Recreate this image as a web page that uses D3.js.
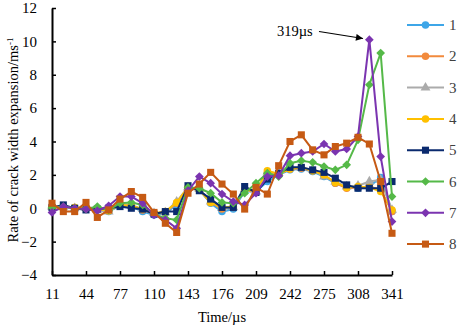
<!DOCTYPE html>
<html>
<head>
<meta charset="utf-8">
<script src="https://cdn.jsdelivr.net/npm/d3@7"></script>
<style>
  body { margin: 0; background: #fff; }
  text { font-family: "Liberation Serif", "Times New Roman", serif; }
</style>
</head>
<body>
<div id="chart"></div>
<script>
// time axis categories (µs)
var times = [11, 22, 33, 44, 55, 66, 77, 88, 99, 110, 121, 132, 143, 154, 165, 176,
  187, 198, 209, 220, 231, 242, 253, 264, 275, 286, 297, 308, 319, 330, 341]
var xTicks = [11, 44, 77, 110, 143, 176, 209, 242, 275, 308, 341]
var yTicks = [-4, -2, 0, 2, 4, 6, 8, 10, 12]

var names = ["1", "2", "3", "4", "5", "6", "7", "8"]

var s1 = [0, 0.1, 0, 0, -0.1, -0.2, 0.15, 0.1, -0.2, -0.4, -0.3, 0.2, 1.2, 1.1, 0.3, -0.2,
  -0.05, 1.0, 1.0, 1.6, 2.0, 2.3, 2.35, 2.2, 1.9, 1.5, 1.3, 1.2, 1.3, 1.85, -0.2]
var s2 = [0.05, 0, 0.05, -0.05, -0.05, -0.15, 0.2, 0.15, -0.1, -0.35, -0.25, 0.3, 1.2, 1.1, 0.35, -0.05,
  0.05, 1.1, 0.95, 2.1, 2.05, 2.35, 2.4, 2.25, 2.0, 1.5, 1.2, 1.25, 1.3, 1.1, -0.2]
var s3 = [0.1, 0.05, 0, 0.05, -0.1, -0.2, 0.25, 0.2, -0.05, -0.3, -0.25, 0.4, 1.25, 1.15, 0.4, 0,
  0.05, 1.15, 1.0, 2.15, 2.1, 2.4, 2.4, 2.3, 1.9, 1.6, 1.3, 1.35, 1.6, 1.7, -0.1]
var s4 = [0.05, 0.1, 0.05, 0, -0.05, -0.15, 0.2, 0.15, -0.05, -0.3, -0.2, 0.35, 1.25, 1.1, 0.35, 0.05,
  0.1, 1.1, 1.05, 2.25, 2.05, 2.35, 2.45, 2.25, 2.0, 1.55, 1.25, 1.3, 1.25, 1.0, -0.1]
var s5 = [0.05, 0.2, 0, -0.1, -0.05, 0, 0.1, 0, -0.05, -0.35, -0.2, -0.2, 1.35, 1.05, 0.55, 0.05,
  0.05, 1.3, 0.95, 1.75, 2.1, 2.45, 2.45, 2.3, 2.15, 1.8, 1.4, 1.2, 1.2, 1.2, 1.6]
var s6 = [0.05, 0.1, 0, -0.05, 0.1, -0.1, 0.3, 0.35, 0.2, -0.35, -0.6, -0.7, 1.25, 1.2, 0.9, 0.35,
  0.3, 0.9, 1.5, 2.1, 1.9, 2.7, 2.85, 2.75, 2.5, 2.3, 2.6, 4.1, 7.4, 9.3, 0.7]
var s7 = [-0.25, 0.1, 0, -0.05, -0.15, 0.15, 0.7, 0.7, 0.3, -0.4, -0.7, -1.2, 1.05, 1.9, 1.5, 0.85,
  0.4, 0.2, 0.9, 1.9, 1.95, 3.15, 3.3, 3.4, 3.85, 3.4, 3.55, 4.3, 10.1, 3.1, -0.8]
var s8 = [0.3, -0.2, -0.2, 0.35, -0.55, -0.1, 0.55, 1.0, 0.65, -0.25, -0.9, -1.45, 0.9, 1.45, 2.15, 1.45,
  0.85, -0.05, 1.25, 0.85, 2.55, 4.0, 4.4, 3.5, 3.2, 3.7, 3.9, 4.25, 3.85, 1.6, -1.5]

var seriesValues = [s1, s2, s3, s4, s5, s6, s7, s8]
var colors = ["#3ea6e8", "#f28a3c", "#ababab", "#ffc000", "#0a2a6e", "#55b948", "#7b34b0", "#c65a14"]
var shapes = ["circle", "circle", "triangle", "circle", "square", "diamond", "diamond", "square"]

var width = 457, height = 328

var svg = d3.select("#chart")
  .append("svg")
  .attr("width", width)
  .attr("height", height)

var x = d3.scalePoint()
  .domain(times)
  .range([52, 392])

var y = d3.scaleLinear()
  .domain([-4, 12])
  .range([275, 8])

// axes (ticks point inward like the original)
var xAxis = svg.append("g")
  .attr("transform", "translate(0," + y(-4) + ")")
  .call(d3.axisBottom(x).tickValues(xTicks).tickSizeInner(-4).tickSizeOuter(0).tickPadding(13))
xAxis.select(".domain").attr("stroke", "#000").attr("stroke-width", 2)
xAxis.selectAll(".tick line").attr("stroke", "#000").attr("stroke-width", 1.5)
xAxis.selectAll("text").attr("font-size", 15).attr("fill", "#000")
  .attr("font-family", "Liberation Serif")

var yAxis = svg.append("g")
  .attr("transform", "translate(" + x(11) + ",0)")
  .call(d3.axisLeft(y).tickValues(yTicks).tickSizeInner(-4).tickSizeOuter(0).tickPadding(15))
yAxis.select(".domain").attr("stroke", "#000").attr("stroke-width", 2)
yAxis.selectAll(".tick line").attr("stroke", "#000").attr("stroke-width", 1.5)
yAxis.selectAll("text").attr("font-size", 15).attr("fill", "#000")
  .attr("font-family", "Liberation Serif")

// axis titles
svg.append("text")
  .attr("x", 222)
  .attr("y", 322)
  .attr("text-anchor", "middle")
  .attr("font-size", 14.5)
  .text("Time/µs")

var yTitle = svg.append("text")
  .attr("transform", "translate(18,140) rotate(-90)")
  .attr("text-anchor", "middle")
  .attr("font-size", 14.5)
yTitle.append("tspan").text("Rate of crack width expansion/ms")
yTitle.append("tspan").attr("dy", -5).attr("font-size", 9).text("-1")

function markerPath(shape) {
  if (shape == "circle") return d3.symbol(d3.symbolCircle, 44)()
  if (shape == "triangle") return d3.symbol(d3.symbolTriangle, 42)()
  if (shape == "square") return d3.symbol(d3.symbolSquare, 50)()
  return d3.symbol(d3.symbolSquare, 38)()
}

var line = d3.line()
  .x(function (d, i) { return x(times[i]) })
  .y(function (d) { return y(d) })

seriesValues.forEach(function (vals, k) {
  var g = svg.append("g")
  g.append("path")
    .datum(vals)
    .attr("d", line)
    .attr("fill", "none")
    .attr("stroke", colors[k])
    .attr("stroke-width", 2)
  g.selectAll("path.mk")
    .data(vals)
    .enter()
    .append("path")
    .attr("class", "mk")
    .attr("d", markerPath(shapes[k]))
    .attr("transform", function (d, i) {
      return "translate(" + x(times[i]) + "," + y(d) + ")" + (shapes[k] == "diamond" ? " rotate(45)" : "")
    })
    .attr("fill", colors[k])
})

// annotation of the peak
svg.append("defs").append("marker")
  .attr("id", "arrow")
  .attr("viewBox", "0 0 10 10")
  .attr("refX", 10)
  .attr("refY", 5)
  .attr("markerWidth", 10)
  .attr("markerHeight", 7)
  .attr("markerUnits", "userSpaceOnUse")
  .attr("orient", "auto")
  .append("path")
  .attr("d", "M0,0 L10,5 L0,10 Z")
  .attr("fill", "#000")

svg.append("text")
  .attr("x", 277)
  .attr("y", 36)
  .attr("font-size", 14.5)
  .text("319µs")

svg.append("line")
  .attr("x1", 319)
  .attr("y1", 31.5)
  .attr("x2", 363)
  .attr("y2", 38.5)
  .attr("stroke", "#000")
  .attr("stroke-width", 1.2)
  .attr("marker-end", "url(#arrow)")

// legend
var legend = svg.append("g")
names.forEach(function (name, k) {
  var ly = 25 + k * 31.3
  legend.append("line")
    .attr("x1", 407).attr("x2", 444)
    .attr("y1", ly).attr("y2", ly)
    .attr("stroke", colors[k])
    .attr("stroke-width", 2)
  legend.append("path")
    .attr("d", markerPath(shapes[k]))
    .attr("transform", "translate(425.5," + ly + ")" + (shapes[k] == "diamond" ? " rotate(45)" : ""))
    .attr("fill", colors[k])
  legend.append("text")
    .attr("x", 449)
    .attr("y", ly + 5)
    .attr("font-size", 15)
    .attr("fill", "#404040")
    .text(name)
})
</script>
</body>
</html>
